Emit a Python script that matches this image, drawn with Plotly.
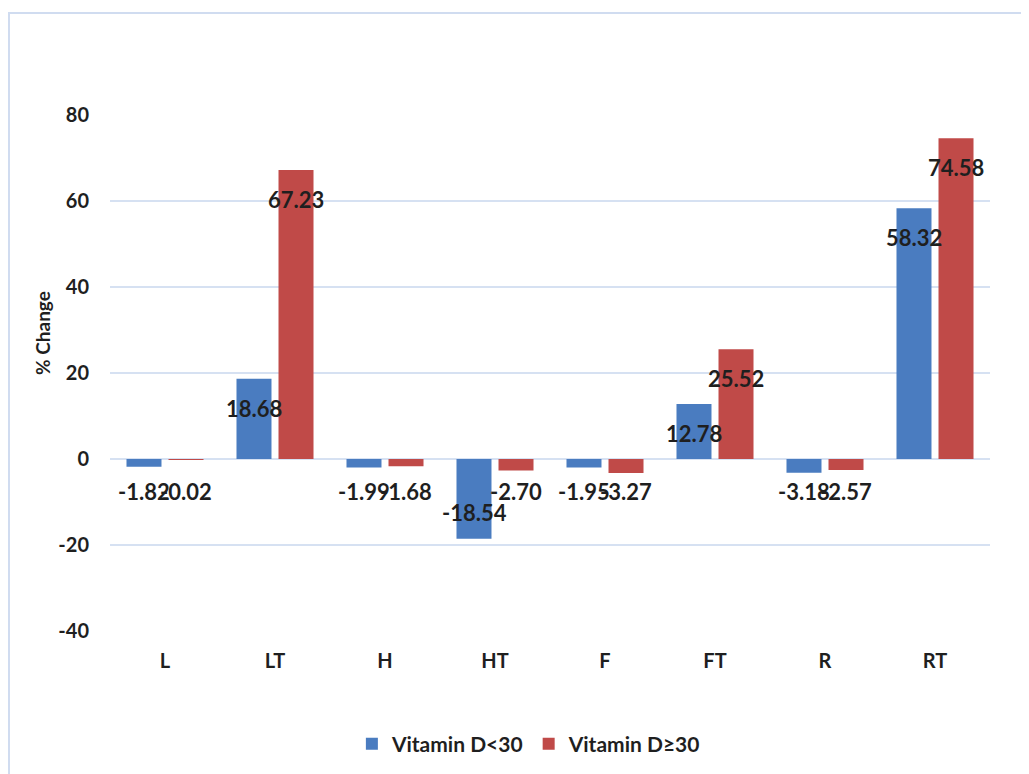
import plotly.graph_objects as go

categories = ["L", "LT", "H", "HT", "F", "FT", "R", "RT"]
vit_d_low = [-1.82, 18.68, -1.99, -18.54, -1.95, 12.78, -3.18, 58.32]
vit_d_high = [-0.02, 67.23, -1.68, -2.70, -3.27, 25.52, -2.57, 74.58]
series_names = ["Vitamin D<30", "Vitamin D\u226530"]
y_ticks = [-40, -20, 0, 20, 40, 60, 80]
y_tick_text = ["-40", "-20", "0", "20", "40", "60", "80"]

FONT = "Lato"
TXT = "#1f1f1f"
GRID = "#d6e1f2"
BLUE = "#4a7cc0"
RED = "#c04a48"

fig = go.Figure()
fig.add_trace(go.Bar(x=categories, y=vit_d_low, name=series_names[0],
                     marker=dict(color=BLUE, line=dict(width=0))))
fig.add_trace(go.Bar(x=categories, y=vit_d_high, name=series_names[1],
                     marker=dict(color=RED, line=dict(width=0))))

annotations = []
for vals, xs in ((vit_d_low, -21), (vit_d_high, 21)):
    for c, v in zip(categories, vals):
        txt = f"{v:.2f}"
        if v >= 5:
            a = dict(y=v, yanchor="top", yshift=-14)
        elif v <= -5:
            a = dict(y=v, yanchor="bottom", yshift=11)
        else:
            a = dict(y=0, yanchor="top", yshift=-17)
        annotations.append(dict(x=c, xref="x", yref="y", text=txt, showarrow=False,
                                xanchor="center", xshift=xs,
                                font=dict(family=FONT, size=22, color=TXT, weight="bold"),
                                **a))

annotations.append(dict(x=-0.0773, y=0.5, xref="paper", yref="paper",
                        text="% Change", textangle=-90, showarrow=False,
                        xanchor="center", yanchor="middle", yshift=40,
                        font=dict(family=FONT, size=19, color=TXT, weight="bold")))

fig.update_layout(
    width=1029, height=774,
    margin=dict(l=102, r=47, t=107, b=151),
    paper_bgcolor="white", plot_bgcolor="white",
    barmode="group", bargap=0.236, bargroupgap=0.167,
    font=dict(family=FONT, color=TXT),
    showlegend=True,
    legend=dict(orientation="h", x=0.476, y=-0.219, xanchor="center", yanchor="middle",
                font=dict(family=FONT, size=21, color=TXT, weight="bold"),
                itemwidth=30, traceorder="normal"),
    annotations=annotations,
    shapes=[dict(type="rect", xref="paper", yref="paper",
                 x0=-0.1148, x1=1.2, y0=-0.6, y1=1.1977,
                 line=dict(color="#d0dcf0", width=2), fillcolor="rgba(0,0,0,0)", layer="below")],
)
fig.update_xaxes(showgrid=False, showline=False, zeroline=False, ticks="",
                 tickfont=dict(family=FONT, size=20, color=TXT, weight="bold"),
                 ticklabelstandoff=16)
fig.update_yaxes(range=[-40, 80], tickvals=y_ticks, ticktext=y_tick_text,
                 showgrid=True, gridcolor=GRID, gridwidth=1.5,
                 zeroline=True, zerolinecolor=GRID, zerolinewidth=1.5, showline=False, ticks="",
                 tickfont=dict(family=FONT, size=20, color=TXT, weight="bold"),
                 ticklabelstandoff=20)

fig.write_html("out.html")
